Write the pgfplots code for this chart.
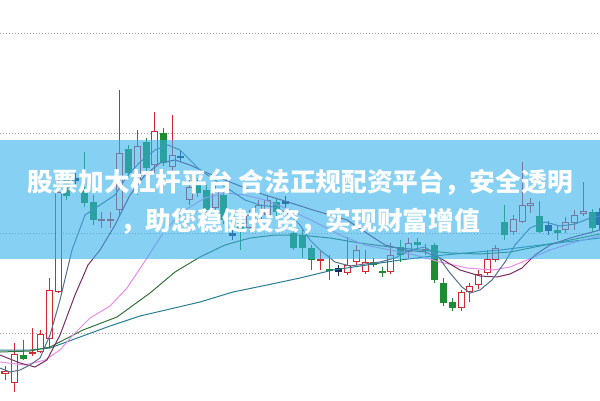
\documentclass[border=0pt]{standalone}
\usepackage{pgfplots}
\usepackage{pgfplotstable}
\pgfplotsset{compat=1.18}
\usepackage{fontspec}
\newfontfamily\cjk{Noto Sans CJK SC}
\definecolor{upred}{RGB}{214,40,44}
\definecolor{dngreen}{RGB}{30,140,50}
\definecolor{flatc}{RGB}{25,45,90}
\definecolor{maA}{RGB}{85,110,140}
\definecolor{maB}{RGB}{120,45,95}
\definecolor{maC}{RGB}{232,140,232}
\definecolor{maD}{RGB}{50,115,60}
\definecolor{maE}{RGB}{40,125,145}
\definecolor{banner}{RGB}{52,177,235}

% candles in image pixel coordinates: x, body top, body bottom, high, low
\pgfplotstableread{
x top bot hi lo
5 371 374 366 380
14 354 383 343 392
32 352 354 328 356
40 334 352 330 353
49 290 339 278 348
58 192 292 180 293
101 219 221 212 228
110 219 221 212 228
119 153 210 90 216
137 146 183 130 195
154 131 165 112 173
172 155 167 115 172
189 187 200 180 205
215 190 208 186 212
249 215 228 210 232
258 205 220 200 224
267 200 215 195 218
320 259 261 250 270
347 265 273 237 275
356 250 262 245 265
365 262 272 250 274
390 255 272 243 274
408 243 252 238 258
425 249 251 244 255
461 292 308 290 311
469 286 292 283 302
478 274 285 270 289
487 259 273 250 275
495 248 260 245 262
513 219 232 215 235
522 205 222 162 223
530 203 206 198 213
565 222 230 217 233
574 215 223 210 230
583 211 214 182 216
}\up
\pgfplotstableread{
x top bot hi lo
23 355 359 340 360
66 180 196 172 200
84 190 203 152 207
93 202 220 195 225
128 149 173 145 178
146 142 168 138 172
163 133 163 128 166
197 183 193 178 197
206 190 210 185 214
223 195 220 190 224
240 222 232 215 250
276 202 212 198 216
293 233 248 228 250
302 235 248 230 258
311 248 260 245 270
329 269 271 255 280
373 262 265 258 267
382 271 273 267 277
400 247 255 240 262
417 242 245 238 250
434 245 280 243 283
443 283 303 278 306
452 302 308 298 311
504 222 235 205 240
539 216 232 201 233
557 230 233 225 240
592 212 228 209 232
}\down
\pgfplotstableread{
x top bot hi lo
75 178 181 170 186
180 156 158 150 162
232 233 236 226 240
285 201 204 196 208
338 268 272 265 276
548 225 231 221 235
599 212 225 208 230
}\flat

\begin{document}
\begin{tikzpicture}
\begin{axis}[
  width=600bp, height=400bp, scale only axis,
  xmin=0, xmax=600, ymin=0, ymax=400, y dir=reverse,
  axis line style={draw=none},
  xtick=\empty, ytick=\empty,
  major tick length=0pt, tick style={draw=none},
]
% grid lines
\draw[gray!75, line width=0.9bp, dash pattern=on 1bp off 2bp] (axis cs:0,33) -- (axis cs:600,33);
\draw[gray!75, line width=0.9bp, dash pattern=on 1bp off 2bp] (axis cs:0,133) -- (axis cs:600,133);
\draw[gray!75, line width=0.9bp, dash pattern=on 1bp off 2bp] (axis cs:0,233) -- (axis cs:600,233);
\draw[gray!75, line width=0.9bp, dash pattern=on 1bp off 2bp] (axis cs:0,333) -- (axis cs:600,333);
% wicks
\addplot[draw=none, mark=none, forget plot, error bars/.cd, y dir=plus, y explicit, error mark=none,
  error bar style={draw=upred, line width=1bp}]
  table[x=x, y=hi, y error expr=\thisrow{lo}-\thisrow{hi}] {\up};
\addplot[draw=none, mark=none, forget plot, error bars/.cd, y dir=plus, y explicit, error mark=none,
  error bar style={draw=dngreen, line width=1bp}]
  table[x=x, y=hi, y error expr=\thisrow{lo}-\thisrow{hi}] {\down};
\addplot[draw=none, mark=none, forget plot, error bars/.cd, y dir=plus, y explicit, error mark=none,
  error bar style={draw=flatc, line width=1bp}]
  table[x=x, y=hi, y error expr=\thisrow{lo}-\thisrow{hi}] {\flat};
% bodies
\addplot[draw=none, mark=none, forget plot, error bars/.cd, y dir=plus, y explicit, error mark=none,
  error bar style={draw=upred, line width=7bp}]
  table[x=x, y=top, y error expr=\thisrow{bot}-\thisrow{top}] {\up};
\addplot[draw=none, mark=none, forget plot, error bars/.cd, y dir=plus, y explicit, error mark=none,
  error bar style={draw=white, line width=5bp}]
  table[x=x, y expr=\thisrow{top}+1, y error expr={max(\thisrow{bot}-\thisrow{top}-2,0)}] {\up};
\addplot[draw=none, mark=none, forget plot, error bars/.cd, y dir=plus, y explicit, error mark=none,
  error bar style={draw=dngreen, line width=7bp}]
  table[x=x, y=top, y error expr=\thisrow{bot}-\thisrow{top}] {\down};
\addplot[draw=none, mark=none, forget plot, error bars/.cd, y dir=plus, y explicit, error mark=none,
  error bar style={draw=flatc, line width=7bp}]
  table[x=x, y=top, y error expr=\thisrow{bot}-\thisrow{top}] {\flat};

% moving averages
\addplot[maE, line width=1bp, mark=none] coordinates {
(0,350) (30,350) (50,348) (80,337) (110,326) (140,316) (170,309) (200,302) (233,292) (267,285)
(300,278) (333,270) (367,265) (400,260) (433,256) (466,253) (500,250) (533,246) (566,242) (600,238)};
\addplot[maD, line width=1bp, mark=none] coordinates {
(0,352) (30,351) (50,347) (83,330) (117,317) (150,293) (175,272) (200,257) (225,245) (250,238)
(275,235) (300,235) (330,238) (360,243) (390,247) (420,250) (450,253) (480,254) (510,252) (540,246) (570,240) (600,234)};
\addplot[maC, line width=1bp, mark=none] coordinates {
(0,362) (25,365) (45,360) (60,350) (73,335) (90,318) (110,306) (127,288) (147,258) (165,230)
(185,210) (205,198) (225,193) (245,195) (265,200) (290,210) (315,222) (340,235) (365,245) (390,250)
(415,255) (440,262) (467,268) (493,270) (510,267) (527,260) (550,250) (575,242) (600,236)};
\addplot[maB, line width=1bp, mark=none] coordinates {
(0,355) (20,363) (35,367) (47,360) (60,335) (75,295) (88,265) (100,250) (115,225) (130,195)
(145,175) (160,163) (175,160) (190,165) (205,172) (225,180) (245,188) (265,195) (285,201) (313,210)
(347,220) (365,232) (385,245) (405,250) (425,252) (440,258) (460,270) (480,276) (497,277) (510,274)
(522,268) (535,255) (550,245) (570,238) (600,230)};
\addplot[maA, line width=1bp, mark=none] coordinates {
(0,368) (10,372) (20,370) (30,365) (40,358) (50,335) (60,300) (72,250) (85,215) (100,205) (115,195)
(128,175) (140,162) (155,150) (168,145) (180,150) (190,160) (200,170) (215,180) (230,190) (245,200)
(260,205) (275,207) (290,215) (300,225) (310,240) (320,250) (335,262) (350,266) (365,264) (380,262)
(395,258) (410,250) (425,247) (437,255) (450,273) (462,287) (470,293) (480,290) (492,280) (505,262)
(515,245) (530,228) (545,222) (560,226) (575,224) (590,218) (600,216)};

% banner overlay
\fill[banner, fill opacity=0.6] (axis cs:0,140) rectangle (axis cs:600,259);
\node[text=white, font=\cjk\bfseries\fontsize{25.7bp}{30bp}\selectfont, inner sep=0pt, anchor=center]
  at (axis cs:300,182) {股票加大杠杆平台 合法正规配资平台，安全透明};
\node[text=white, font=\cjk\bfseries\fontsize{25.7bp}{30bp}\selectfont, inner sep=0pt, anchor=center]
  at (axis cs:300,221) {，助您稳健投资，实现财富增值};
\end{axis}
\end{tikzpicture}
\end{document}
